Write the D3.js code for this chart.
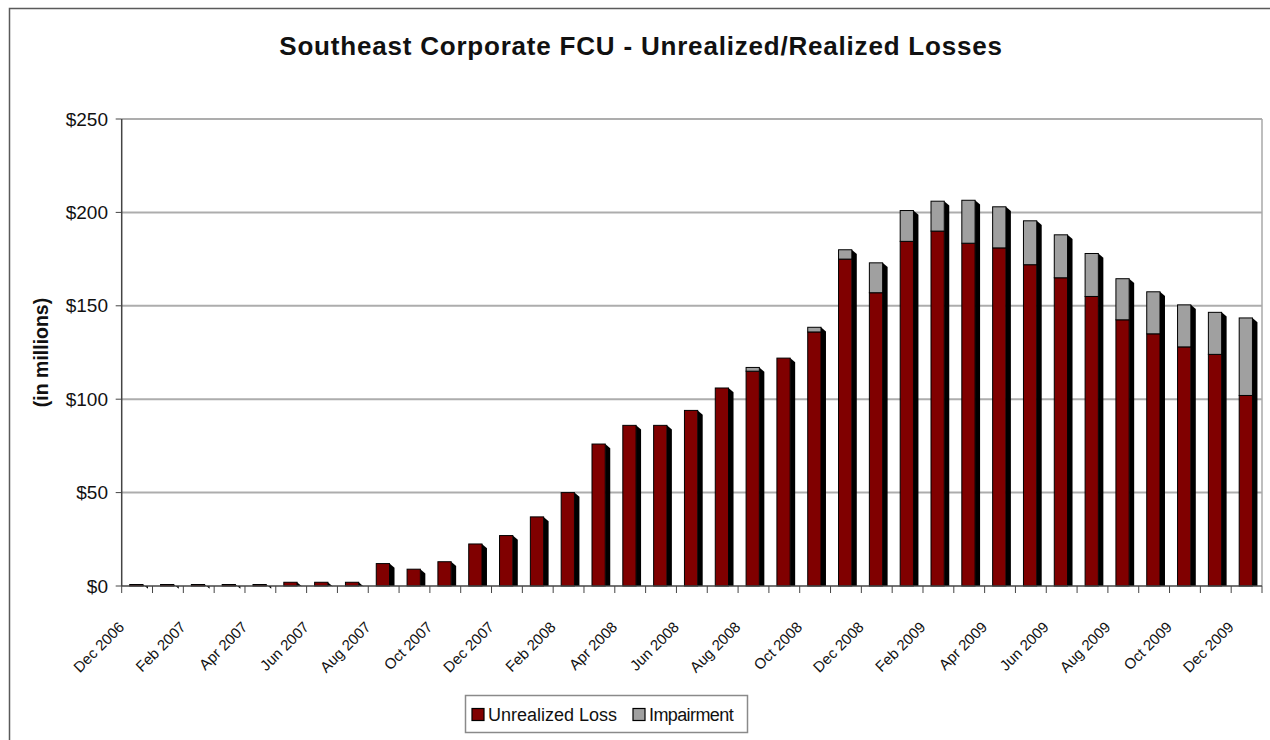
<!DOCTYPE html>
<html>
<head>
<meta charset="utf-8">
<script src="https://cdn.jsdelivr.net/npm/d3@7"></script>
<style>
    body { margin: 0; background: #fff; }
    svg { display: block; }
</style>
</head>
<body>
<svg id="chart" width="1270" height="740"></svg>
<script>
var months = [
    "Dec 2006", "Jan 2007", "Feb 2007", "Mar 2007", "Apr 2007", "May 2007", "Jun 2007",
    "Jul 2007", "Aug 2007", "Sep 2007", "Oct 2007", "Nov 2007", "Dec 2007", "Jan 2008",
    "Feb 2008", "Mar 2008", "Apr 2008", "May 2008", "Jun 2008", "Jul 2008", "Aug 2008",
    "Sep 2008", "Oct 2008", "Nov 2008", "Dec 2008", "Jan 2009", "Feb 2009", "Mar 2009",
    "Apr 2009", "May 2009", "Jun 2009", "Jul 2009", "Aug 2009", "Sep 2009", "Oct 2009",
    "Nov 2009", "Dec 2009"
];

var unrealizedLoss = [
    0.8, 0.8, 0.8, 0.8, 0.8, 2, 2, 2, 12, 9, 13, 22.5, 27, 37, 50, 76, 86, 86, 94, 106,
    115, 122, 136, 175, 157, 184.5, 190, 183.5, 181, 172, 165, 155, 142.5, 135, 128, 124, 102
];

var impairment = [
    0, 0, 0, 0, 0, 0, 0, 0, 0, 0, 0, 0, 0, 0, 0, 0, 0, 0, 0, 0,
    2, 0, 2.5, 5, 16, 16.5, 16, 23, 22, 23.5, 23, 23, 22, 22.5, 22.5, 22.5, 41.5
];

var yTicks = [0, 50, 100, 150, 200, 250];
var seriesKeys = ["unrealized", "impairment"];
var seriesNames = ["Unrealized Loss", "Impairment"];
var seriesColors = ["#800000", "#a0a0a0"];

/**
 * Stacked column chart drawn with a fake 3D side face.
 * @param {Object} options - override of the defaults
 * @constructor
 */
function LossChart(options) {

    var self = this,
        defaults = {
            svg: "#chart",
            font: "'Liberation Sans', Arial, sans-serif",
            title: "Southeast Corporate FCU - Unrealized/Realized Losses",
            yLabel: "(in millions)",
            left: 121.7,
            right: 1262,
            top: 119,
            bottom: 586,
            depth: 5
        };

    self.config = Object.assign({}, defaults, options || {});

    self.initialize = function () {
        self.svg = d3.select(self.config.svg);

        self.rows = months.map(function (m, i) {
            return {month: m, unrealized: unrealizedLoss[i], impairment: impairment[i]};
        });

        self.x = d3.scaleBand()
            .domain(months)
            .range([self.config.left, self.config.right])
            .padding(0);

        self.y = d3.scaleLinear()
            .domain([0, 250])
            .range([self.config.bottom, self.config.top]);

        self._drawFrame();
        self._drawGrid();
        self._drawBars();
        self._drawAxes();
        self._drawTexts();
        self._drawLegend();

        return self;
    };

    /**
     * Outer border of the chart.
     * @private
     */
    self._drawFrame = function () {
        self.svg.append("rect")
            .attr("x", 9.5)
            .attr("y", 8.5)
            .attr("width", 1300)
            .attr("height", 800)
            .attr("fill", "none")
            .attr("stroke", "#5a5a5a")
            .attr("stroke-width", 1.5);
    };

    /**
     * Horizontal gridlines plus the right border of the plot area.
     * @private
     */
    self._drawGrid = function () {
        self.svg.append("g")
            .selectAll("line")
            .data(yTicks.slice(1))
            .join("line")
            .attr("x1", self.config.left)
            .attr("x2", self.config.right)
            .attr("y1", function (d) { return self.y(d); })
            .attr("y2", function (d) { return self.y(d); })
            .attr("stroke", "#adadad")
            .attr("stroke-width", 2);

        self.svg.append("line")
            .attr("x1", self.config.right)
            .attr("x2", self.config.right)
            .attr("y1", self.config.top)
            .attr("y2", self.config.bottom)
            .attr("stroke", "#a8a8a8")
            .attr("stroke-width", 1.5);
    };

    /**
     * Front faces from the stack, black side faces for the depth.
     * @private
     */
    self._drawBars = function () {
        var stacked = d3.stack().keys(seriesKeys)(self.rows),
            step = self.x.bandwidth(),
            offset = step * 0.26,
            width = step * 0.43,
            depth = self.config.depth;

        // Side faces
        self.svg.append("g")
            .selectAll("polygon")
            .data(self.rows)
            .join("polygon")
            .attr("fill", "#000")
            .attr("points", function (d) {
                var xr = self.x(d.month) + offset + width,
                    top = self.y(d.unrealized + d.impairment),
                    base = self.y(0);
                return [[xr, top], [xr + depth, top + depth * 0.85], [xr + depth, base], [xr, base]].join(" ");
            });

        // Front faces
        self.svg.append("g")
            .selectAll("g")
            .data(stacked)
            .join("g")
            .attr("fill", function (d, i) { return seriesColors[i]; })
            .selectAll("rect")
            .data(function (d) { return d.filter(function (p) { return p[1] - p[0] > 0; }); })
            .join("rect")
            .attr("x", function (d) { return self.x(d.data.month) + offset; })
            .attr("y", function (d) { return self.y(d[1]); })
            .attr("width", width)
            .attr("height", function (d) { return self.y(d[0]) - self.y(d[1]); })
            .attr("stroke", "#000")
            .attr("stroke-width", 1);
    };

    /**
     * Left and bottom axis lines with their tick marks.
     * @private
     */
    self._drawAxes = function () {
        var boundaries = months.map(function (m) { return self.x(m); }).concat([self.config.right]);

        self.svg.append("g")
            .selectAll("line")
            .data(boundaries)
            .join("line")
            .attr("x1", function (d) { return d; })
            .attr("x2", function (d) { return d; })
            .attr("y1", self.config.bottom)
            .attr("y2", self.config.bottom + 7)
            .attr("stroke", "#444");

        self.svg.append("g")
            .selectAll("line")
            .data(yTicks)
            .join("line")
            .attr("x1", self.config.left - 6)
            .attr("x2", self.config.left)
            .attr("y1", function (d) { return self.y(d); })
            .attr("y2", function (d) { return self.y(d); })
            .attr("stroke", "#444");

        self.svg.append("line")
            .attr("x1", self.config.left)
            .attr("x2", self.config.right)
            .attr("y1", self.config.bottom)
            .attr("y2", self.config.bottom)
            .attr("stroke", "#444")
            .attr("stroke-width", 1.5);

        self.svg.append("line")
            .attr("x1", self.config.left)
            .attr("x2", self.config.left)
            .attr("y1", self.config.top)
            .attr("y2", self.config.bottom)
            .attr("stroke", "#444")
            .attr("stroke-width", 1.5);
    };

    /**
     * Title, axis title and tick labels.
     * @private
     */
    self._drawTexts = function () {
        var font = self.config.font,
            half = self.x.bandwidth() / 2;

        self.svg.append("text")
            .attr("x", 641)
            .attr("y", 55)
            .attr("text-anchor", "middle")
            .style("font-family", font)
            .style("font-size", "26px")
            .style("letter-spacing", "0.8px")
            .style("font-weight", "bold")
            .attr("fill", "#111")
            .text(self.config.title);

        self.svg.append("text")
            .attr("transform", "translate(48," + (self.config.top + self.config.bottom) / 2 + ") rotate(-90)")
            .attr("text-anchor", "middle")
            .style("font-family", font)
            .style("font-size", "19.5px")
            .style("font-weight", "bold")
            .attr("fill", "#111")
            .text(self.config.yLabel);

        self.svg.append("g")
            .selectAll("text")
            .data(yTicks)
            .join("text")
            .attr("x", 108)
            .attr("y", function (d) { return self.y(d); })
            .attr("dy", "0.35em")
            .attr("text-anchor", "end")
            .style("font-family", font)
            .style("font-size", "19px")
            .attr("fill", "#111")
            .text(function (d) { return "$" + d; });

        self.svg.append("g")
            .selectAll("text")
            .data(months.filter(function (m, i) { return i % 2 === 0; }))
            .join("text")
            .attr("transform", function (d) {
                return "translate(" + (self.x(d) + half - 12) + "," + (self.config.bottom + 42) + ") rotate(-45)";
            })
            .attr("text-anchor", "end")
            .style("font-family", font)
            .style("font-size", "15px")
            .attr("fill", "#111")
            .text(function (d) { return d; });
    };

    /**
     * Boxed legend under the axis.
     * @private
     */
    self._drawLegend = function () {
        var legend = self.svg.append("g"),
            itemX = [472, 633];

        legend.append("rect")
            .attr("x", 465.5)
            .attr("y", 695.5)
            .attr("width", 282)
            .attr("height", 37)
            .attr("fill", "#fff")
            .attr("stroke", "#8a8a8a")
            .attr("stroke-width", 1.5);

        seriesNames.forEach(function (name, i) {
            legend.append("rect")
                .attr("x", itemX[i])
                .attr("y", 708.5)
                .attr("width", 12)
                .attr("height", 12)
                .attr("fill", seriesColors[i])
                .attr("stroke", "#000")
                .attr("stroke-width", 1.2);

            legend.append("text")
                .attr("x", itemX[i] + 16)
                .attr("y", 715)
                .attr("dy", "0.35em")
                .style("font-family", self.config.font)
                .style("font-size", "18px")
                .style("letter-spacing", i === 1 ? "-0.6px" : "0px")
                .attr("fill", "#111")
                .text(name);
        });
    };
}

new LossChart().initialize();
</script>
</body>
</html>
